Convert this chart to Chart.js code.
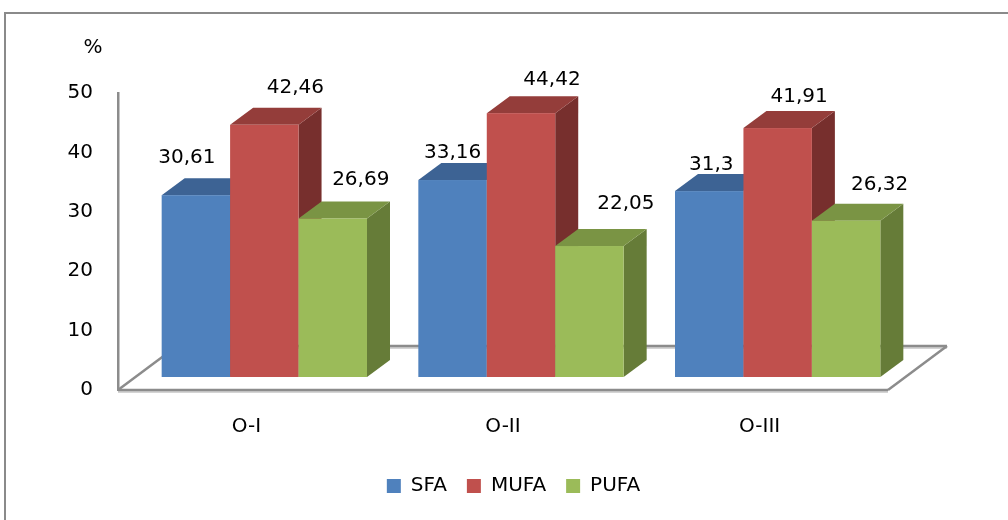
<!DOCTYPE html>
<html><head><meta charset="utf-8">
<script src="https://cdn.jsdelivr.net/npm/chart.js@4/dist/chart.umd.min.js"></script>
<style>html,body{margin:0;padding:0;background:#fff}#wrap{width:1008px;height:520px;position:relative}</style>
</head><body><div id="wrap"><canvas id="c" width="1008" height="520"></canvas></div>
<script>
// ---- data ----
const categories = ['O-I', 'O-II', 'O-III'];
const seriesNames = ['SFA', 'MUFA', 'PUFA'];
const sfa  = [30.61, 33.16, 31.3];
const mufa = [42.46, 44.42, 41.91];
const pufa = [26.69, 22.05, 26.32];
const yTicks = [0, 10, 20, 30, 40, 50];
const axisUnit = '%';

// ---- styling / layout ----
const FRONT = ['#4F81BD', '#C0504D', '#9BBB59'];
const TOP   = ['#3D6394', '#943D3A', '#7A9444'];
const SIDE  = ['#385D8A', '#772F2D', '#667C38'];
const BAR_SHIFT = {x: 18, y: -13};
const DEPTH = {x: 23, y: -17};
const FLOOR_DEPTH = {x: 59, y: -44};
const LABEL_NUDGE = [
  [[-9, -37], [0, -27], [2, -26]],
  [[31, -37], [31, -33], [21.5, -31]],
  [[28, -39], [36.5, -42], [33.5, -36]]
];
const FONT = "'DejaVu Sans', sans-serif";
const FS = 20;

function fmt(v) { return String(v).replace('.', ','); }

function poly(c, pts, color) {
  c.beginPath();
  c.moveTo(pts[0][0], pts[0][1]);
  for (let k = 1; k < pts.length; k++) c.lineTo(pts[k][0], pts[k][1]);
  c.closePath();
  c.fillStyle = color;
  c.fill();
}
function line(c, a, b, color, w) {
  c.beginPath(); c.moveTo(a[0], a[1]); c.lineTo(b[0], b[1]);
  c.strokeStyle = color; c.lineWidth = w; c.stroke();
}

const threeD = {
  id: 'threeD',
  beforeDraw(chart) {
    const c = chart.ctx;
    c.save();
    c.strokeStyle = '#8a8a8a'; c.lineWidth = 2;
    c.strokeRect(5, 13, 1100, 600);
    c.restore();
  },
  beforeDatasetsDraw(chart) {
    const c = chart.ctx, xs = chart.scales.x, ys = chart.scales.y;
    const y0 = ys.getPixelForValue(0), L = xs.left, R = xs.right;
    c.save();
    // floor
    const fl = [L, y0], fr = [R, y0];
    const br = [R + FLOOR_DEPTH.x, y0 + FLOOR_DEPTH.y], bl = [L + FLOOR_DEPTH.x, y0 + FLOOR_DEPTH.y];
    const light = '#d4d4d4', dark = '#8c8c8c';
    line(c, [bl[0], bl[1] + 2], [br[0], br[1] + 2], light, 2);
    line(c, [fl[0], fl[1] + 2], [fr[0], fr[1] + 2], light, 2);
    line(c, fl, bl, dark, 2.5);
    line(c, bl, br, dark, 2.5);
    line(c, fr, br, dark, 2.5);
    line(c, fl, fr, dark, 2.5);
    // bars
    const n = chart.data.datasets.length;
    for (let i = 0; i < n; i++) {
      const meta = chart.getDatasetMeta(i);
      meta.data.forEach((el) => {
        const p = el.getProps(['x', 'y', 'base', 'width'], true);
        const x0 = p.x - p.width / 2 + BAR_SHIFT.x, x1 = p.x + p.width / 2 + BAR_SHIFT.x;
        const yt = p.y + BAR_SHIFT.y, yb = p.base + BAR_SHIFT.y;
        poly(c, [[x1, yt], [x1 + DEPTH.x, yt + DEPTH.y], [x1 + DEPTH.x, yb + DEPTH.y], [x1, yb]], SIDE[i]);
        poly(c, [[x0, yt], [x0 + DEPTH.x, yt + DEPTH.y], [x1 + DEPTH.x, yt + DEPTH.y], [x1, yt]], TOP[i]);
        c.fillStyle = FRONT[i];
        c.fillRect(x0, yt, x1 - x0, yb - yt);
      });
    }
    // value labels
    c.font = FS + 'px ' + FONT;
    c.fillStyle = '#000';
    c.textAlign = 'center';
    c.textBaseline = 'middle';
    for (let i = 0; i < n; i++) {
      const meta = chart.getDatasetMeta(i);
      const ds = chart.data.datasets[i];
      meta.data.forEach((el, j) => {
        const p = el.getProps(['x', 'y'], true);
        const nd = LABEL_NUDGE[i][j];
        c.fillText(fmt(ds.data[j]), p.x + BAR_SHIFT.x + nd[0], p.y + BAR_SHIFT.y + nd[1]);
      });
    }
    // unit
    c.fillText(axisUnit, 93, 48);
    c.restore();
    return false;
  }
};

Chart.defaults.font.family = FONT;
Chart.defaults.font.size = FS;
Chart.defaults.color = '#000';

new Chart(document.getElementById('c').getContext('2d'), {
  type: 'bar',
  data: {
    labels: categories,
    datasets: [sfa, mufa, pufa].map((d, i) => ({
      label: seriesNames[i], data: d, backgroundColor: FRONT[i], borderWidth: 0
    }))
  },
  options: {
    responsive: false, animation: false, devicePixelRatio: 1,
    layout: {padding: {left: 19, right: 0, top: 93, bottom: 14}},
    datasets: {bar: {categoryPercentage: 0.8, barPercentage: 1}},
    plugins: {
      legend: {position: 'bottom', labels: {boxWidth: 14, boxHeight: 14, padding: 20, color: '#000', font: {family: FONT, size: FS}}},
      tooltip: {enabled: false}
    },
    scales: {
      x: {
        grid: {display: false, drawTicks: false}, border: {display: false},
        ticks: {padding: 25, color: '#000', font: {family: FONT, size: FS}},
        afterFit(s) { s.height = 66; }
      },
      y: {
        min: 0, max: 50,
        afterBuildTicks(s) { s.ticks = yTicks.map(v => ({value: v})); },
        grid: {display: false, drawTicks: false},
        border: {display: true, color: '#8c8c8c', width: 2.5},
        ticks: {padding: 25, color: '#000', font: {family: FONT, size: FS}},
        afterFit(s) { s.width = 99; }
      },
      yR: {
        position: 'right', display: true,
        grid: {display: false, drawTicks: false}, border: {display: false},
        ticks: {display: false},
        afterFit(s) { s.width = 120; }
      }
    }
  },
  plugins: [threeD]
});
</script>
</body></html>
